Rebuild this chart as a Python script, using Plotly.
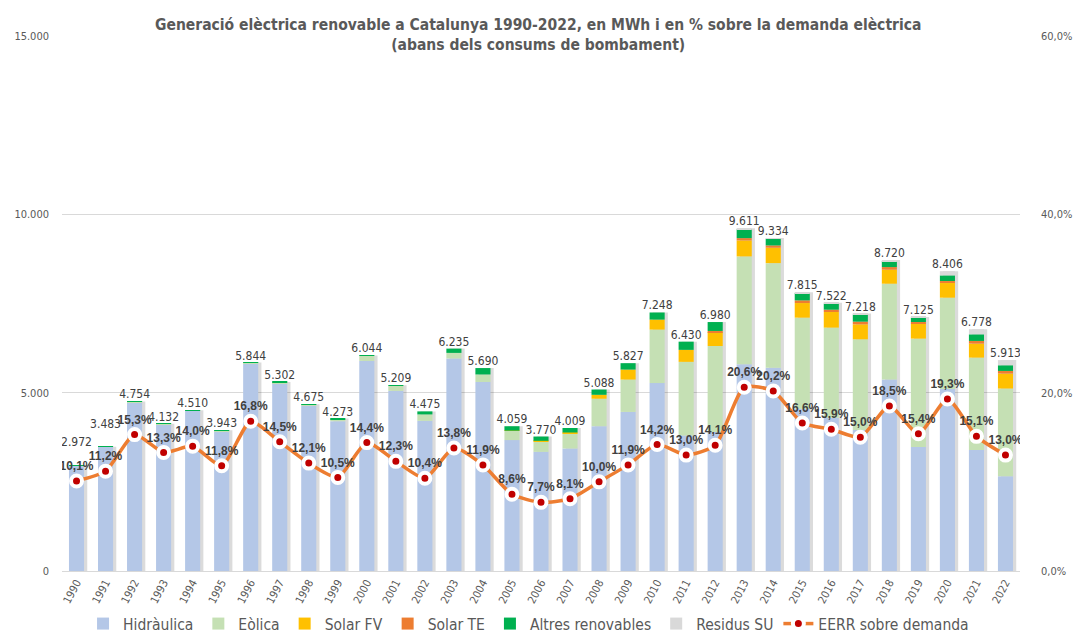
import numpy as np
import plotly.graph_objects as go

# dades (llegides del gràfic)
anys = [str(a) for a in range(1990, 2023)]

hidraulica = [2970, 3478, 4730, 4120, 4495, 3925, 5820, 5270, 4640, 4200, 5890, 5050, 4210,
              5960, 5300, 3670, 3340, 3435, 4060, 4460, 5270, 3800, 3900, 5800, 5700, 4550,
              4300, 3950, 5370, 3480, 5100, 3390, 2660]
eolica = [1, 2, 10, 6, 8, 10, 14, 22, 25, 60, 140, 139, 180, 155, 210, 260, 300, 433, 770,
          907, 1498, 2064, 2408, 3020, 2932, 2553, 2524, 2546, 2685, 3035, 2563, 2593, 2456]
solar_fv = [0, 0, 0, 0, 0, 0, 0, 0, 0, 0, 0, 0, 0, 0, 0, 4, 10, 15, 110, 280, 280, 336, 392,
            448, 432, 410, 437, 420, 393, 420, 411, 392, 419]
solar_te = [0, 0, 0, 0, 0, 0, 0, 0, 0, 0, 0, 0, 0, 0, 0, 0, 0, 0, 0, 0, 0, 0, 30, 65, 64,
            75, 66, 75, 73, 46, 56, 75, 74]
altres = [1, 3, 14, 6, 7, 8, 10, 10, 10, 13, 14, 20, 85, 120, 180, 125, 120, 126, 148, 180,
          200, 230, 250, 250, 188, 205, 168, 197, 168, 122, 158, 186, 159]
residus = [0, 0, 0, 0, 0, 0, 0, 0, 0, 0, 0, 0, 0, 0, 0, 0, 0, 0, 0, 0, 0, 0, 0, 28, 18, 22,
           27, 30, 31, 22, 118, 142, 145]

totals = [2972, 3483, 4754, 4132, 4510, 3943, 5844, 5302, 4675, 4273, 6044, 5209, 4475, 6235,
          5690, 4059, 3770, 4009, 5088, 5827, 7248, 6430, 6980, 9611, 9334, 7815, 7522, 7218,
          8720, 7125, 8406, 6778, 5913]
pct_demanda = [10.1, 11.2, 15.3, 13.3, 14.0, 11.8, 16.8, 14.5, 12.1, 10.5, 14.4, 12.3, 10.4,
               13.8, 11.9, 8.6, 7.7, 8.1, 10.0, 11.9, 14.2, 13.0, 14.1, 20.6, 20.2, 16.6, 15.9,
               15.0, 18.5, 15.4, 19.3, 15.1, 13.0]

eix_mwh = [0, 5000, 10000, 15000]
eix_pct = [0, 20, 40, 60]
eix_pct_text = ["0,0%", "20,0%", "40,0%", "60,0%"]

# anys on l'etiqueta del total va una mica més amunt (per no trepitjar el %)
etiqueta_alta = ["1990", "1991"]

series = [
    ("Hidràulica", hidraulica, "#B4C7E7"),
    ("Eòlica", eolica, "#C5E0B4"),
    ("Solar FV", solar_fv, "#FFC000"),
    ("Solar TE", solar_te, "#ED7D31"),
    ("Altres renovables", altres, "#00B050"),
    ("Residus SU", residus, "#D9D9D9"),
]

NARROW = "DejaVu Sans Condensed, Roboto, sans-serif"
GRIS = "#595959"
AMPLE = 0.52

fig = go.Figure()

# ombra de les barres
fig.add_trace(go.Bar(
    x=anys, y=totals, base=0, width=AMPLE, offset=-AMPLE / 2 + 0.11,
    marker=dict(color="rgba(0,0,0,0.14)", line_width=0),
    showlegend=False, hoverinfo="skip",
))

base = np.zeros(len(anys))
for nom, vals, color in series:
    fig.add_trace(go.Bar(
        name=nom, x=anys, y=vals, base=base.copy(), width=AMPLE, offset=-AMPLE / 2,
        marker=dict(color=color, line_width=0),
    ))
    base = base + np.array(vals)

# etiquetes de totals
textos = []
for a, t in zip(anys, totals):
    s = f"{t:,}".replace(",", ".")
    textos.append(s + "<br> " if a in etiqueta_alta else s)

fig.add_trace(go.Scatter(
    x=anys, y=totals, mode="text", text=textos,
    textposition="top center", textfont=dict(family=NARROW, size=12, color="#404040"),
    showlegend=False, hoverinfo="skip",
))

# % sobre demanda
fig.add_trace(go.Scatter(
    name="EERR sobre demanda", x=anys, y=pct_demanda, yaxis="y2",
    mode="lines+markers+text", line=dict(color="#ED7D31", width=3.5, shape="spline", smoothing=0.6),
    marker=dict(color="#C00000", size=11, line=dict(color="white", width=4)),
    texttemplate="<b>%{y:.1f}%</b>", textposition="top center",
    textfont=dict(family="Liberation Sans, Arial, sans-serif", size=12, color="#404040"),
))

fig.add_annotation(
    text="<b>Generació elèctrica renovable a Catalunya 1990-2022, en MWh i en % sobre la demanda elèctrica"
         "<br>(abans dels consums de bombament)</b>",
    xref="paper", yref="paper", x=0.497, y=1.0, xanchor="center", yanchor="middle", yshift=1,
    showarrow=False, bgcolor="white", borderpad=4,
    font=dict(family=NARROW, size=15.5, color=GRIS),
)

fig.update_layout(
    width=1084, height=641,
    margin=dict(l=62, r=64, t=36, b=70),
    barmode="overlay",
    separators=",.",
    plot_bgcolor="white", paper_bgcolor="white",
    font=dict(family=NARROW, color=GRIS),
    showlegend=True,
    legend=dict(orientation="h", x=0.487, xanchor="center", yref="container", y=-0.012,
                yanchor="bottom", font=dict(family=NARROW, size=15.5, color=GRIS),
                traceorder="normal"),
    xaxis=dict(type="category", range=[-0.5, 32.5], tickangle=-62,
               tickfont=dict(family=NARROW, size=11, color=GRIS),
               showline=True, linecolor="#D9D9D9", linewidth=1, ticks="", automargin=False),
    yaxis=dict(range=[0, 15000], tickvals=eix_mwh, tickformat=",d",
               gridcolor="#D9D9D9", zeroline=False, tickfont=dict(family=NARROW, size=11, color=GRIS),
               ticklabelstandoff=12, automargin=False),
    yaxis2=dict(range=[0, 60], tickvals=eix_pct, ticktext=eix_pct_text,
                overlaying="y", side="right", showgrid=False, zeroline=False,
                tickfont=dict(family=NARROW, size=11, color=GRIS), ticklabelstandoff=20,
                automargin=False),
)

fig.write_html("out.html", post_script="document.body.style.margin='0';",
               config={"displayModeBar": False})
